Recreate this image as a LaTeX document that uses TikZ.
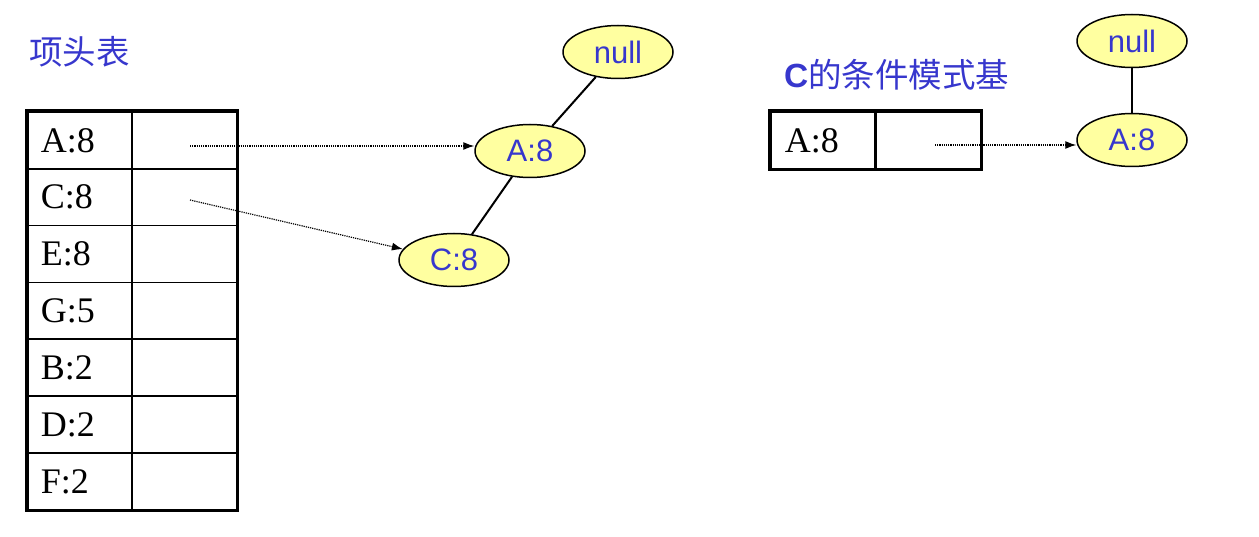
\documentclass[tikz,border=0pt]{standalone}
\usepackage{fontspec}
\setmainfont{Liberation Serif}
\newfontfamily\cjkfont{Noto Sans CJK SC}
\newfontfamily\arialfont{Liberation Sans}
\usetikzlibrary{shapes.geometric,arrows.meta}
\definecolor{tblue}{RGB}{55,55,205}
\definecolor{nodeyellow}{RGB}{255,255,160}
\tikzset{
  cell/.style={draw=black,line width=1.6pt,rectangle,anchor=north west,minimum height=57pt,inner sep=0pt,font=\fontsize{36}{40}\selectfont},
  lcell/.style={cell,minimum width=104pt,text width=90pt,align=left},
  pcell/.style={cell,minimum width=105pt},
  tnode/.style={ellipse,draw=black,line width=1.5pt,fill=nodeyellow,minimum width=110pt,minimum height=53pt,inner sep=0pt,font=\arialfont\fontsize{31}{34}\selectfont,text=tblue},
  ptr/.style={line width=1.2pt,dash pattern=on 1.2pt off 1pt,-{Latex[length=11pt,width=8pt]}},
  treeedge/.style={line width=2pt},
  title/.style={font=\cjkfont\fontsize{33.5}{36}\selectfont,text=tblue,anchor=west,inner sep=0pt}
}
\begin{document}
\begin{tikzpicture}[x=1pt,y=-1pt]
\useasboundingbox (0,0) rectangle (1259,537);
\node[title] (t1) at (29,52) {项头表};
\node[title] (t2) at (784,75) {{\arialfont\bfseries C}的条件模式基};
% left table
\foreach \lab [count=\i from 0] in {A:8,C:8,E:8,G:5,B:2,D:2,F:2}{
  \node[lcell] (l\i) at (27,111+56.857*\i) {\hspace*{6pt}\lab};
  \node[pcell] (p\i) at (131,111+56.857*\i) {};
}
\draw[line width=3.5pt] (l0.north west) rectangle (p6.south east);
% right table
\node[lcell] (rl) at (770,111) {\hspace*{7pt}A:8};
\node[pcell] (rp) at (875,111) {};
\draw[line width=3.5pt] (rl.north west) rectangle (rp.south east);
% tree nodes
\node[tnode] (null1) at (618,52) {null};
\node[tnode] (a8) at (530,151) {A:8};
\node[tnode] (c8) at (454,260) {C:8};
\node[tnode] (null2) at (1132,41) {null};
\node[tnode] (ra8) at (1132,140) {A:8};
\draw[treeedge] (null1) -- (a8);
\draw[treeedge] (a8) -- (c8);
\draw[treeedge] (null2) -- (ra8);
% pointers
\coordinate (sa) at (190,146);
\coordinate (sc) at (190,200);
\coordinate (sr) at (935,145);
\draw[ptr] (sa) -- (sa -| a8.west);
\draw[ptr] (sc) -- (c8.168);
\draw[ptr] (sr) -- (sr -| ra8.west);
\end{tikzpicture}
\end{document}
